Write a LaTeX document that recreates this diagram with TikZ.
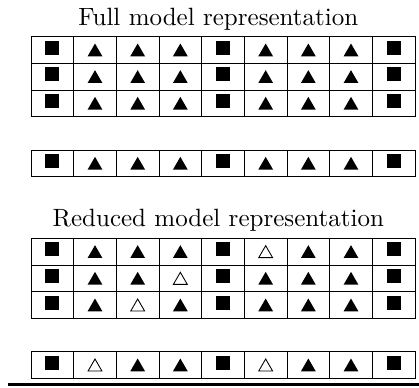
\documentclass[tikz,border=0pt]{standalone}
\usetikzlibrary{shapes.geometric}
\tikzset{
  cell/.style={draw, line width=0.4pt, minimum width=17.067pt, minimum height=10.667pt, inner sep=0pt, outer sep=0pt},
  sq/.style={fill=black, minimum size=5.6pt, inner sep=0pt, outer sep=0pt, yshift=1pt},
  tri/.style={regular polygon, regular polygon sides=3, fill=black, minimum size=6.8pt, inner sep=0pt, outer sep=0pt, yshift=-0.8pt},
  otri/.style={regular polygon, regular polygon sides=3, draw=black, line width=0.35pt, minimum size=6.4pt, inner sep=0pt, outer sep=0pt, yshift=-0.8pt},
  title/.style={anchor=base, inner sep=0pt},
  baserule/.style={line width=1.1pt}
}
\newcommand\gridrow[3]{%
  \foreach \s [count=\i from 0] in {#3} {
    \node[cell] (#1-\i) at ({31+42.667*(\i+0.5)}, {#2+13.3333}) {};
    \node[\s] (#1-\i-s) at (#1-\i.center) {};
  }%
}
\begin{document}
\begin{tikzpicture}[x=0.4pt,y=-0.4pt]
\useasboundingbox (0,0) rectangle (419,387);
\node[title] (t1) at (218.3,25.7) {Full model representation};
\gridrow{fa}{36.6667}{sq,tri,tri,tri,sq,tri,tri,tri,sq}
\gridrow{fb}{63.3333}{sq,tri,tri,tri,sq,tri,tri,tri,sq}
\gridrow{fc}{90.0}{sq,tri,tri,tri,sq,tri,tri,tri,sq}
\gridrow{fs}{150.0}{sq,tri,tri,tri,sq,tri,tri,tri,sq}
\node[title] (t2) at (218.3,226.7) {Reduced model representation};
\gridrow{ra}{238.3333}{sq,tri,tri,tri,sq,otri,tri,tri,sq}
\gridrow{rb}{265.0}{sq,tri,tri,otri,sq,tri,tri,tri,sq}
\gridrow{rc}{291.6667}{sq,tri,otri,tri,sq,tri,tri,tri,sq}
\gridrow{rs}{351.6667}{sq,otri,tri,tri,sq,otri,tri,tri,sq}
\coordinate (r1) at (8.3,384.3);
\coordinate (r2) at (419,384.3);
\draw[baserule] (r1) -- (r2);
\end{tikzpicture}
\end{document}
